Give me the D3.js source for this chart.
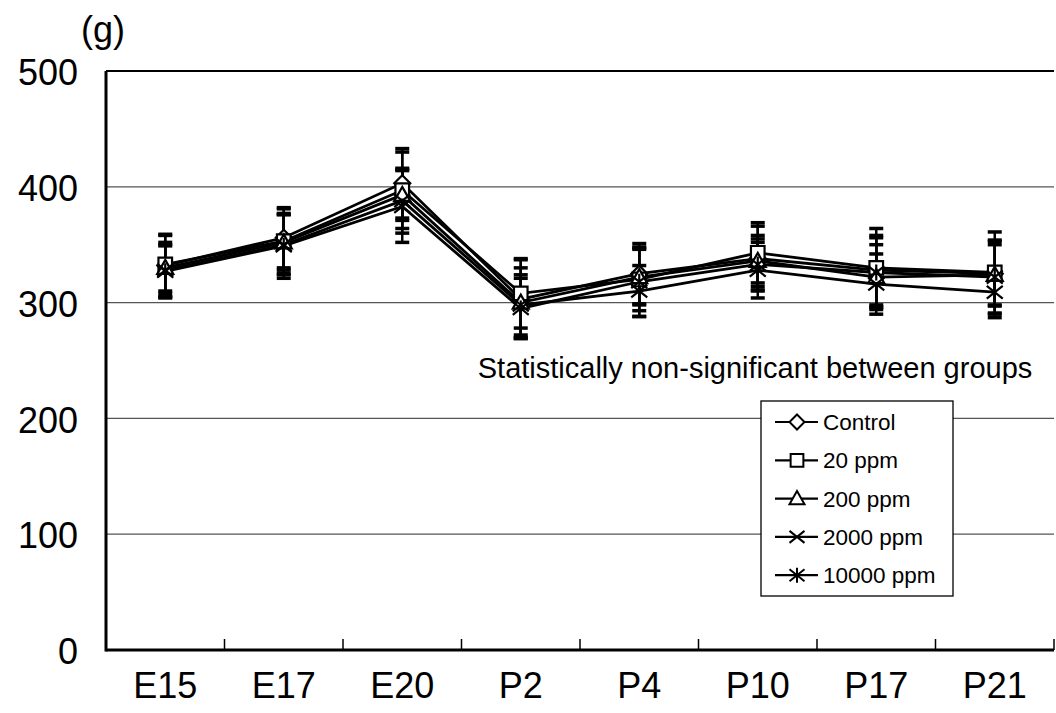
<!DOCTYPE html>
<html>
<head>
<meta charset="utf-8">
<script src="https://cdn.jsdelivr.net/npm/d3@7"></script>
<style>
  body { margin: 0; background: #fff; }
  svg { display: block; font-family: "Liberation Sans", Arial, sans-serif; }
</style>
</head>
<body>
<div id="chart"></div>
<script>
// ages on the x axis
const categories = ["E15", "E17", "E20", "P2", "P4", "P10", "P17", "P21"];
const groups = ["Control", "20 ppm", "200 ppm", "2000 ppm", "10000 ppm"];
const yTicks = [0, 100, 200, 300, 400, 500];

// body weight means (g)
const controlMean = [332, 356, 403, 303, 325, 338, 328, 325];
const ppm20Mean   = [333, 353, 397, 308, 320, 343, 330, 326];
const ppm200Mean  = [330, 352, 393, 300, 322, 336, 322, 324];
const ppm2000Mean = [328, 350, 388, 298, 310, 328, 316, 309];
const ppm10kMean  = [327, 349, 383, 295, 318, 333, 326, 322];

// SD
const controlSd = [27, 26, 30, 34, 26, 28, 30, 28];
const ppm20Sd   = [25, 28, 33, 30, 27, 26, 34, 35];
const ppm200Sd  = [20, 24, 22, 30, 24, 22, 28, 26];
const ppm2000Sd = [24, 26, 28, 26, 22, 24, 26, 22];
const ppm10kSd  = [22, 28, 31, 26, 30, 22, 30, 32];

const means = [controlMean, ppm20Mean, ppm200Mean, ppm2000Mean, ppm10kMean];
const sds = [controlSd, ppm20Sd, ppm200Sd, ppm2000Sd, ppm10kSd];
const markers = ["diamond", "square", "triangle", "x", "asterisk"];

const W = 1056, H = 713;
const margin = {left: 106, right: 2, top: 71, bottom: 63};

const svg = d3.select("#chart").append("svg")
  .attr("width", W).attr("height", H);

const x = d3.scaleBand().domain(categories)
  .range([margin.left, W - margin.right]).padding(0);
const y = d3.scaleLinear().domain([0, 500])
  .range([H - margin.bottom, margin.top]);

// grid
svg.append("g").selectAll("line").data(yTicks.filter(d => d > 0)).join("line")
  .attr("x1", margin.left).attr("x2", W - margin.right)
  .attr("y1", d => y(d)).attr("y2", d => y(d))
  .attr("stroke", d => d === 500 ? "#000" : "#555")
  .attr("stroke-width", d => d === 500 ? 2 : 1.2);

// axes
const xAxis = svg.append("g")
  .attr("transform", `translate(0,${y(0)})`)
  .call(d3.axisBottom(x).tickSize(0).tickPadding(22));
xAxis.select(".domain").remove();
xAxis.selectAll("text").attr("font-size", 36).attr("fill", "#000")
  .attr("font-family", "Liberation Sans, Arial, sans-serif");

svg.append("g").selectAll("line").data(categories.slice(1).concat(["end"])).join("line")
  .attr("x1", d => d === "end" ? W - margin.right : x(d))
  .attr("x2", d => d === "end" ? W - margin.right : x(d))
  .attr("y1", y(0)).attr("y2", y(0) - 11)
  .attr("stroke", "#000").attr("stroke-width", 1.5);

const yAxis = svg.append("g")
  .attr("transform", `translate(${margin.left},0)`)
  .call(d3.axisLeft(y).tickValues(yTicks).tickSize(0).tickPadding(28));
yAxis.select(".domain").remove();
yAxis.selectAll("text").attr("font-size", 36).attr("fill", "#000")
  .attr("dy", "0.38em")
  .attr("font-family", "Liberation Sans, Arial, sans-serif");

svg.append("line")
  .attr("x1", margin.left).attr("x2", W - margin.right)
  .attr("y1", y(0)).attr("y2", y(0))
  .attr("stroke", "#000").attr("stroke-width", 3);
svg.append("line")
  .attr("x1", margin.left).attr("x2", margin.left)
  .attr("y1", y(0) + 1.5).attr("y2", y(500))
  .attr("stroke", "#000").attr("stroke-width", 3);

svg.append("text").attr("x", 103).attr("y", 42)
  .attr("text-anchor", "middle").attr("font-size", 36).text("(g)");

const cx = d => x(d) + x.bandwidth() / 2;

function markerPath(type, s) {
  const h = s / 2;
  if (type === "diamond") return `M0,${-h}L${h},0L0,${h}L${-h},0Z`;
  if (type === "square") return `M${-h*0.85},${-h*0.85}H${h*0.85}V${h*0.85}H${-h*0.85}Z`;
  if (type === "triangle") return `M0,${-h}L${h},${h*0.75}H${-h}Z`;
  if (type === "x") return `M${-h},${-h*0.8}L${h},${h*0.8}M${-h},${h*0.8}L${h},${-h*0.8}`;
  return `M${-h},${-h*0.8}L${h},${h*0.8}M${-h},${h*0.8}L${h},${-h*0.8}M0,${-h}V${h}`;
}

// lines
const line = d3.line().x((d, i) => cx(categories[i])).y(d => y(d));
svg.append("g").selectAll("path").data(means).join("path")
  .attr("d", d => line(d))
  .attr("fill", "none").attr("stroke", "#000").attr("stroke-width", 2.8);

// error bars
means.forEach((m, s) => {
  const g = svg.append("g");
  m.forEach((v, i) => {
    const px = cx(categories[i]);
    const lo = v - sds[s][i], hi = v + sds[s][i];
    g.append("line").attr("x1", px).attr("x2", px)
      .attr("y1", y(lo)).attr("y2", y(hi))
      .attr("stroke", "#000").attr("stroke-width", 2.5);
    [lo, hi].forEach(e => {
      g.append("line").attr("x1", px - 7).attr("x2", px + 7)
        .attr("y1", y(e)).attr("y2", y(e))
        .attr("stroke", "#000").attr("stroke-width", 3.5);
    });
  });
});

// markers
means.forEach((m, s) => {
  const type = markers[s];
  svg.append("g").selectAll("path").data(m).join("path")
    .attr("transform", (d, i) => `translate(${cx(categories[i])},${y(d)})`)
    .attr("d", markerPath(type, 16))
    .attr("fill", type === "x" || type === "asterisk" ? "none" : "#fff")
    .attr("stroke", "#000").attr("stroke-width", 2.2);
});

svg.append("text").attr("x", 755).attr("y", 378)
  .attr("text-anchor", "middle").attr("font-size", 29)
  .text("Statistically non-significant between groups");

// legend
const lg = svg.append("g");
lg.append("rect").attr("x", 761).attr("y", 401).attr("width", 192).attr("height", 195)
  .attr("fill", "#fff").attr("stroke", "#000").attr("stroke-width", 1.3);
groups.forEach((name, k) => {
  const ly = 422 + k * 38.3;
  lg.append("line").attr("x1", 775).attr("x2", 818).attr("y1", ly).attr("y2", ly)
    .attr("stroke", "#000").attr("stroke-width", 2.2);
  const t = markers[k];
  lg.append("path").attr("transform", `translate(797,${ly})`)
    .attr("d", markerPath(t, 15))
    .attr("fill", t === "x" || t === "asterisk" ? "none" : "#fff")
    .attr("stroke", "#000").attr("stroke-width", 2);
  lg.append("text").attr("x", 823).attr("y", ly + 8)
    .attr("font-size", 22.5).text(name);
});
</script>
</body>
</html>
